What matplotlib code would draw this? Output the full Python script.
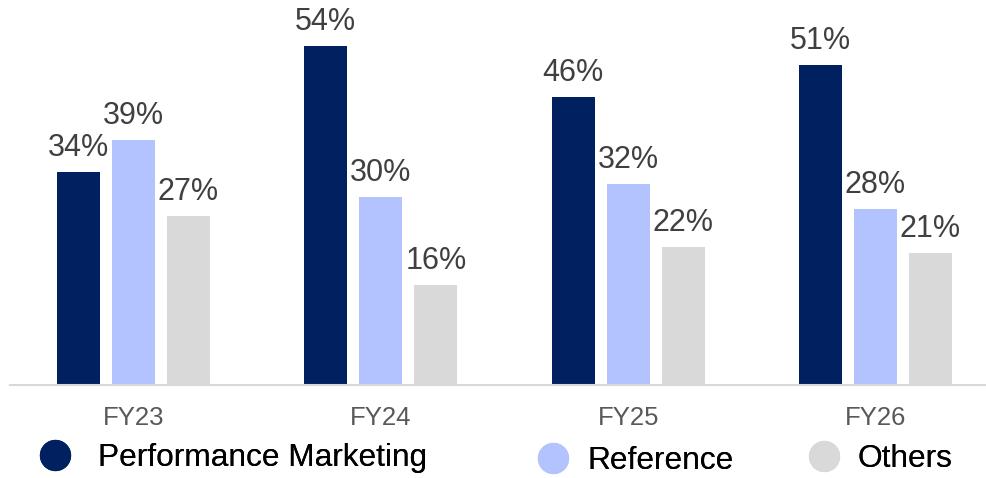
import matplotlib.pyplot as plt
from matplotlib.lines import Line2D
import numpy as np

plt.rcParams['font.family'] = ['Liberation Sans', 'DejaVu Sans']

years = ['FY23', 'FY24', 'FY25', 'FY26']
series_names = ['Performance Marketing', 'Reference', 'Others']
perf_marketing = [34, 54, 46, 51]
reference = [39, 30, 32, 28]
others = [27, 16, 22, 21]

colors = ['#002060', '#B3C3FF', '#D9D9D9']

fig = plt.figure(figsize=(9.87, 4.78), dpi=100)
ax = fig.add_axes([10 / 987, 93 / 478, 977 / 987, 385 / 478])

x = np.arange(len(years))
width = 0.174
step = 0.2224

all_series = [perf_marketing, reference, others]
for i, vals in enumerate(all_series):
    bars = ax.bar(x + (i - 1) * step, vals, width, color=colors[i])
    for b, v in zip(bars, vals):
        ax.annotate(f'{v}%', (b.get_x() + b.get_width() / 2, v),
                    xytext=(0, 11.5), textcoords='offset points',
                    ha='center', va='baseline', fontsize=22, color='#404040')

ax.set_xlim(-0.4994, 3.451)
ax.set_ylim(0, 61.4)
ax.set_xticks(x)
ax.set_xticklabels(years)
ax.tick_params(axis='x', length=0, pad=15, labelsize=18.5, labelcolor='#595959')
ax.set_yticks([])
for side in ['top', 'right', 'left']:
    ax.spines[side].set_visible(False)
ax.spines['bottom'].set_color('#D9D9D9')
ax.spines['bottom'].set_linewidth(1.5)

# legend entries are spaced unevenly, so one legend per entry
legend_spots = [(39, 458, 0.85), (537, 461, 0.6), (808, 459, 0.56)]
for i, (px, py, pad) in enumerate(legend_spots):
    h = Line2D([], [], marker='o', linestyle='none', markersize=21.5,
               markerfacecolor=colors[i], markeredgecolor=colors[i])
    leg = fig.legend([h], [series_names[i]], loc='center left',
                     bbox_to_anchor=(px / 987, (478 - py) / 478),
                     frameon=False, fontsize=22.8, handlelength=1.0,
                     handletextpad=pad, borderpad=0, borderaxespad=0)
    fig.add_artist(leg)

fig.savefig('out.png', dpi=100)
